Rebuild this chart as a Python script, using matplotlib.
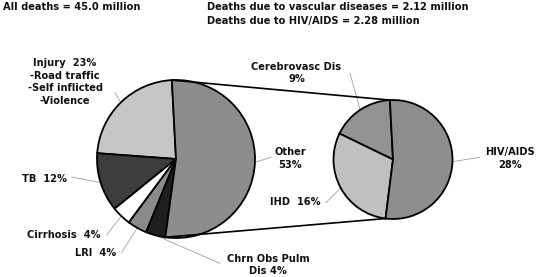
import numpy as np
from matplotlib import pyplot as plt

# main pie (all deaths)
main_labels = ['Injury  23%\n-Road traffic\n-Self inflicted\n-Violence', 'TB  12%',
               'Cirrhosis  4%', 'LRI  4%', 'Chrn Obs Pulm\nDis 4%', 'Other\n53%']
main_values = [23, 12, 4, 4, 4, 53]
main_colors = ['#c6c6c6', '#3d3d3d', '#ffffff', '#8a8a8a', '#1e1e1e', '#8d8d8d']

# second pie (breakdown of "Other")
sub_labels = ['Cerebrovasc Dis\n9%', 'IHD  16%', 'HIV/AIDS\n28%']
sub_values = [9, 16, 28]
sub_colors = ['#929292', '#c0c0c0', '#8e8e8e']

titles = ['All deaths = 45.0 million',
          'Deaths due to vascular diseases = 2.12 million',
          'Deaths due to HIV/AIDS = 2.28 million']

W, H = 541, 277
fig = plt.figure(figsize=(W/100.0, H/100.0), dpi=100)
ax = fig.add_axes([0, 0, 1, 1])

c1, r1 = (176.0, H-159.0), 79.0
c2, r2 = (393.0, H-159.5), 59.5

w1, _ = ax.pie(main_values, colors=main_colors, startangle=93, counterclock=True,
               center=c1, radius=r1, frame=True,
               wedgeprops=dict(edgecolor='k', linewidth=1.3))
w2, _ = ax.pie(sub_values, colors=sub_colors, startangle=93, counterclock=True,
               center=c2, radius=r2, frame=True,
               wedgeprops=dict(edgecolor='k', linewidth=1.3))
ax.set_xlim(0, W)
ax.set_ylim(0, H)
ax.set_aspect('equal')
ax.axis('off')

fs = 7.1
kw = dict(fontsize=fs, fontweight='bold', family='DejaVu Sans', color='#111111')

ax.text(3, H-10, titles[0], ha='left', va='baseline', **kw)
ax.text(207, H-10, titles[1], ha='left', va='baseline', **kw)
ax.text(207, H-24, titles[2], ha='left', va='baseline', **kw)

def edge_pt(w):
    a = np.deg2rad((w.theta1 + w.theta2) / 2.0)
    return w.center[0] + w.r*np.cos(a), w.center[1] + w.r*np.sin(a)

# label layout: (text x, text y, leader end x, leader end y) in pixels from top-left
main_pos = [(65, 82, 115, 92.7),
            (44, 179.5, 71.7, 177),
            (64, 235, 106.7, 235),
            (95.5, 253.3, 121.7, 252.7),
            (268, 265, 220, 263.3),
            (290, 158.3, 271, 157.3)]
sub_pos = [(296.5, 73, 350, 73.3),
           (295, 201.7, 326, 202.7),
           (510, 158.3, 480, 157.3)]

for wedges, labels, pos in [(w1, main_labels, main_pos), (w2, sub_labels, sub_pos)]:
    for w, lab, (tx, ty, lx, ly) in zip(wedges, labels, pos):
        ex, ey = edge_pt(w)
        ax.plot([ex, lx], [ey, H-ly], color='#a0a0a0', lw=0.6, zorder=0.5)
        ax.text(tx, H-ty, lab, ha='center', va='center', multialignment='center',
                linespacing=1.35, **kw)

# connector lines between the "Other" slice and the second pie
other = w1[-1]
hiv = w2[-1]
for a, b in [(other.theta2, hiv.theta2), (other.theta1, hiv.theta1)]:
    a, b = np.deg2rad(a), np.deg2rad(b)
    ax.plot([c1[0] + r1*np.cos(a), c2[0] + r2*np.cos(b)],
            [c1[1] + r1*np.sin(a), c2[1] + r2*np.sin(b)], color='k', lw=1.2)

plt.savefig('out.png', dpi=100)
